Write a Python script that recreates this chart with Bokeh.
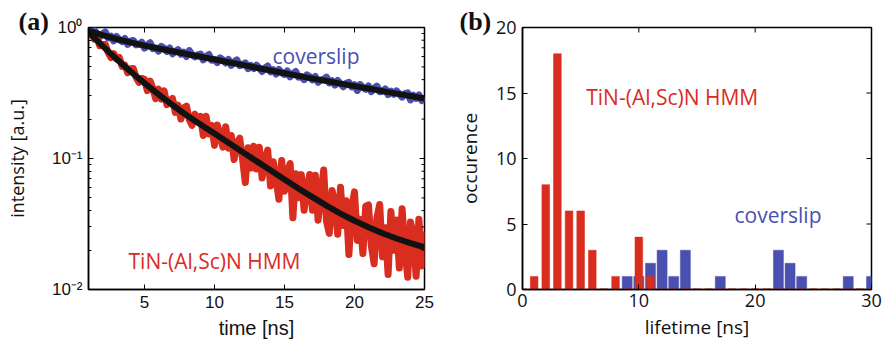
import math

from bokeh.plotting import figure
from bokeh.layouts import row
from bokeh.models import Range1d, FixedTicker, Label, Title
from bokeh.embed import file_html
from bokeh.resources import INLINE

# ---- (a) fluorescence decay traces -------------------------------------
TIME_NS = [
    1.0, 1.2, 1.4, 1.6, 1.8, 2.0, 2.2, 2.4, 2.6, 2.8,
    3.0, 3.2, 3.4, 3.6, 3.8, 4.0, 4.2, 4.4, 4.6, 4.8,
    5.0, 5.2, 5.4, 5.6, 5.8, 6.0, 6.2, 6.4, 6.6, 6.8,
    7.0, 7.2, 7.4, 7.6, 7.8, 8.0, 8.2, 8.4, 8.6, 8.8,
    9.0, 9.2, 9.4, 9.6, 9.8, 10.0, 10.2, 10.4, 10.6, 10.8,
    11.0, 11.2, 11.4, 11.6, 11.8, 12.0, 12.2, 12.4, 12.6, 12.8,
    13.0, 13.2, 13.4, 13.6, 13.8, 14.0, 14.2, 14.4, 14.6, 14.8,
    15.0, 15.2, 15.4, 15.6, 15.8, 16.0, 16.2, 16.4, 16.6, 16.8,
    17.0, 17.2, 17.4, 17.6, 17.8, 18.0, 18.2, 18.4, 18.6, 18.8,
    19.0, 19.2, 19.4, 19.6, 19.8, 20.0, 20.2, 20.4, 20.6, 20.8,
    21.0, 21.2, 21.4, 21.6, 21.8, 22.0, 22.2, 22.4, 22.6, 22.8,
    23.0, 23.2, 23.4, 23.6, 23.8, 24.0, 24.2, 24.4, 24.6, 24.8,
    25.0,
]

COVERSLIP_DECAY = [
    0.966, 0.908, 0.959, 0.902, 0.849, 0.895, 0.925, 0.832, 0.859, 0.791,
    0.855, 0.807, 0.780, 0.824, 0.743, 0.787, 0.796, 0.736, 0.745, 0.771,
    0.695, 0.738, 0.764, 0.690, 0.698, 0.661, 0.718, 0.695, 0.656, 0.697,
    0.630, 0.653, 0.678, 0.625, 0.649, 0.600, 0.667, 0.617, 0.596, 0.618,
    0.627, 0.566, 0.601, 0.622, 0.562, 0.570, 0.540, 0.586, 0.566, 0.536,
    0.569, 0.514, 0.546, 0.565, 0.511, 0.518, 0.537, 0.485, 0.514, 0.486,
    0.516, 0.489, 0.462, 0.490, 0.508, 0.459, 0.476, 0.441, 0.478, 0.452,
    0.438, 0.465, 0.420, 0.445, 0.461, 0.417, 0.423, 0.400, 0.435, 0.421,
    0.398, 0.423, 0.382, 0.397, 0.403, 0.418, 0.378, 0.392, 0.363, 0.394,
    0.373, 0.353, 0.375, 0.381, 0.352, 0.366, 0.330, 0.367, 0.348, 0.337,
    0.358, 0.324, 0.344, 0.357, 0.323, 0.327, 0.340, 0.307, 0.327, 0.309,
    0.328, 0.310, 0.294, 0.313, 0.317, 0.280, 0.304, 0.288, 0.306, 0.277,
    0.294,
]

HMM_DECAY = [
    0.920, 0.918, 0.817, 0.855, 0.726, 0.741, 0.741, 0.646, 0.589, 0.631,
    0.575, 0.590, 0.504, 0.516, 0.451, 0.484, 0.486, 0.416, 0.381, 0.410,
    0.403, 0.330, 0.390, 0.342, 0.286, 0.339, 0.284, 0.329, 0.258, 0.278,
    0.287, 0.225, 0.255, 0.200, 0.243, 0.251, 0.198, 0.179, 0.218, 0.197,
    0.209, 0.150, 0.210, 0.154, 0.179, 0.126, 0.180, 0.152, 0.122, 0.175,
    0.120, 0.150, 0.0982, 0.131, 0.143, 0.100, 0.0655, 0.121, 0.0847, 0.124,
    0.0832, 0.122, 0.0711, 0.0973, 0.116, 0.0617, 0.0946, 0.0695, 0.0488, 0.0964,
    0.0562, 0.0769, 0.0916, 0.0353, 0.0766, 0.0501, 0.0753, 0.0402, 0.0590, 0.0755,
    0.0403, 0.0745, 0.0338, 0.0545, 0.0818, 0.0331, 0.0268, 0.0570, 0.0451, 0.0264,
    0.0603, 0.0308, 0.0476, 0.0185, 0.0423, 0.0556, 0.0237, 0.0343, 0.0188, 0.0432,
    0.0442, 0.0217, 0.0157, 0.0353, 0.0446, 0.0178, 0.0296, 0.0130, 0.0394, 0.0199,
    0.0339, 0.0146, 0.0413, 0.0204, 0.0124, 0.0327, 0.0262, 0.0126, 0.0344, 0.0151,
    0.0277,
]

FIT_TIME_NS = [1, 2, 3, 4, 5, 6, 7, 8, 9, 10, 11, 12, 13,
               14, 15, 16, 17, 18, 19, 20, 21, 22, 23, 24, 25]
COVERSLIP_FIT = [0.944, 0.875, 0.817, 0.769, 0.728, 0.692, 0.659, 0.628, 0.598,
                 0.570, 0.543, 0.518, 0.493, 0.470, 0.448, 0.427, 0.407, 0.390,
                 0.373, 0.357, 0.342, 0.327, 0.313, 0.300, 0.287]
HMM_FIT = [0.920, 0.724, 0.575, 0.462, 0.376, 0.309, 0.256, 0.214, 0.182,
           0.155, 0.132, 0.112, 0.0955, 0.0813, 0.0692, 0.0589, 0.0507, 0.0437,
           0.0380, 0.0335, 0.0299, 0.0269, 0.0245, 0.0226, 0.0210]

A_X_TICKS = [5, 10, 15, 20, 25]
A_Y_TICKS = [0.01, 0.1, 1]
A_Y_TICK_LABELS = ["10\u207b\u00b2", "10\u207b\u00b9", "10\u2070"]

# ---- (b) lifetime histogram --------------------------------------------
LIFETIME_BINS = [0, 1, 2, 3, 4, 5, 6, 7, 8, 9, 10, 11, 12, 13, 14, 15,
                 16, 17, 18, 19, 20, 21, 22, 23, 24, 25, 26, 27, 28, 29, 30]
HMM_COUNTS = [0, 1, 8, 18, 6, 6, 3, 0, 1, 0, 4, 1, 0, 0, 0, 0,
              0, 0, 0, 0, 0, 0, 0, 0, 0, 0, 0, 0, 0, 0, 0]
COVERSLIP_COUNTS = [0, 0, 0, 0, 0, 0, 0, 0, 0, 1, 1, 2, 3, 1, 3, 0,
                    0, 1, 0, 0, 0, 0, 3, 2, 1, 0, 0, 0, 1, 0, 1]
B_X_TICKS = [0, 10, 20, 30]
B_Y_TICKS = [0, 5, 10, 15, 20]

RED = "#d92d1f"
BLUE = "#4a50b0"
FIT = "#121212"
SANS = "Liberation Sans"
HUMANIST = "Open Sans"


def style_axis(ax, font, size):
    ax.axis_line_color = "black"
    ax.axis_line_width = 1.5
    ax.major_tick_line_color = "black"
    ax.minor_tick_line_color = "black"
    ax.major_tick_in = 5
    ax.major_tick_out = 0
    ax.minor_tick_in = 3
    ax.minor_tick_out = 0
    ax.major_label_text_font = font
    ax.major_label_text_color = "#111111"
    ax.major_label_text_font_size = size
    ax.major_label_standoff = 6
    ax.axis_label_text_font_style = "normal"
    ax.axis_label_text_color = "#111111"


def mirror_ticks(p, xs, ys, vertical, size):
    # inward tick marks on the top / right edges of the box (half clipped away)
    p.scatter(x=xs, y=ys, marker="dash", size=size, line_color="black",
              line_width=1, angle=math.pi / 2 if vertical else 0)


def panel_tag(p, text, offset):
    p.add_layout(Title(text=text, align="left", offset=offset, standoff=-16,
                       text_font="Liberation Serif", text_font_style="bold",
                       text_font_size="26px", text_color="#111111"), "above")


def box(p):
    p.grid.visible = False
    p.outline_line_color = "black"
    p.outline_line_width = 1.5
    p.background_fill_color = "white"
    p.border_fill_color = "white"


# ---- panel (a) -----------------------------------------------------------
minor_log = [m * 10.0 ** e for e in (-2, -1) for m in range(2, 10)]

pa = figure(width=440, height=344, y_axis_type="log",
            x_range=Range1d(1, 25), y_range=Range1d(0.01, 1),
            output_backend="svg", toolbar_location=None,
            min_border_left=88, min_border_right=16,
            min_border_top=27, min_border_bottom=55)
box(pa)

pa.xaxis.ticker = FixedTicker(ticks=A_X_TICKS)
pa.yaxis.ticker = FixedTicker(ticks=A_Y_TICKS, minor_ticks=minor_log)
pa.yaxis.major_label_overrides = dict(zip(A_Y_TICKS, A_Y_TICK_LABELS))
style_axis(pa.xaxis[0], SANS, "17px")
style_axis(pa.yaxis[0], SANS, "17px")
pa.xaxis.axis_label = "time [ns]"
pa.xaxis.axis_label_text_font = SANS
pa.xaxis.axis_label_text_font_size = "20px"
pa.xaxis.axis_label_standoff = 6
pa.yaxis.axis_label = "intensity [a.u.]"
pa.yaxis.axis_label_text_font = HUMANIST
pa.yaxis.axis_label_text_font_size = "18px"
pa.yaxis.axis_label_standoff = 20

pa.line(TIME_NS, COVERSLIP_DECAY, line_color=BLUE, line_width=7, line_join="round")
pa.line(TIME_NS, HMM_DECAY, line_color=RED, line_width=7, line_join="round")
pa.line(FIT_TIME_NS, COVERSLIP_FIT, line_color=FIT, line_width=6, line_join="round")
pa.line(FIT_TIME_NS, HMM_FIT, line_color=FIT, line_width=6, line_join="round")

mirror_ticks(pa, A_X_TICKS, [1] * len(A_X_TICKS), True, 10)
mirror_ticks(pa, [25] * len(A_Y_TICKS), A_Y_TICKS, False, 10)
mirror_ticks(pa, [25] * len(minor_log), minor_log, False, 6)

pa.add_layout(Label(x=14.14, y=0.61, text="coverslip", text_font=HUMANIST,
                    text_font_size="21px", text_color=BLUE, text_baseline="alphabetic"))
pa.add_layout(Label(x=3.86, y=0.0165, text="TiN-(Al,Sc)N HMM", text_font=HUMANIST,
                    text_font_size="21px", text_color=RED, text_baseline="alphabetic"))
panel_tag(pa, "(a)", -70)

# ---- panel (b) -----------------------------------------------------------
pb = figure(width=442, height=344,
            x_range=Range1d(0, 30), y_range=Range1d(0, 20),
            output_backend="svg", toolbar_location=None,
            min_border_left=82, min_border_right=11,
            min_border_top=27, min_border_bottom=55)
box(pb)

pb.xaxis.ticker = FixedTicker(ticks=B_X_TICKS)
pb.yaxis.ticker = FixedTicker(ticks=B_Y_TICKS)
style_axis(pb.xaxis[0], HUMANIST, "18px")
style_axis(pb.yaxis[0], HUMANIST, "18px")
pb.xaxis.major_label_standoff = 4
pb.xaxis.axis_label = "lifetime [ns]"
pb.xaxis.axis_label_text_font = HUMANIST
pb.xaxis.axis_label_text_font_size = "19px"
pb.xaxis.axis_label_standoff = 4
pb.yaxis.axis_label = "occurence"
pb.yaxis.axis_label_text_font = HUMANIST
pb.yaxis.axis_label_text_font_size = "19px"
pb.yaxis.axis_label_standoff = 10

pb.vbar(x=LIFETIME_BINS, top=COVERSLIP_COUNTS, width=0.86, bottom=0,
        fill_color=BLUE, line_color=BLUE, line_width=0.5)
pb.vbar(x=LIFETIME_BINS, top=HMM_COUNTS, width=0.66, bottom=0,
        fill_color=RED, line_color=RED, line_width=0.5)
# empty bins of the HMM histogram still leave their outline on the baseline
empty = [b for b, c in zip(LIFETIME_BINS, HMM_COUNTS) if c == 0]
pb.segment(x0=[b - 0.33 for b in empty], x1=[b + 0.33 for b in empty],
           y0=[0] * len(empty), y1=[0] * len(empty), line_color=RED, line_width=2)

mirror_ticks(pb, B_X_TICKS, [20] * len(B_X_TICKS), True, 10)
mirror_ticks(pb, [30] * len(B_Y_TICKS), B_Y_TICKS, False, 10)

pb.add_layout(Label(x=5.48, y=14.66, text="TiN-(Al,Sc)N HMM", text_font=HUMANIST,
                    text_font_size="21px", text_color=RED, text_baseline="alphabetic"))
pb.add_layout(Label(x=18.22, y=5.65, text="coverslip", text_font=HUMANIST,
                    text_font_size="21px", text_color=BLUE, text_baseline="alphabetic"))
panel_tag(pb, "(b)", -63)

layout = row(pa, pb)
with open("out.html", "w") as f:
    f.write(file_html(layout, INLINE))
